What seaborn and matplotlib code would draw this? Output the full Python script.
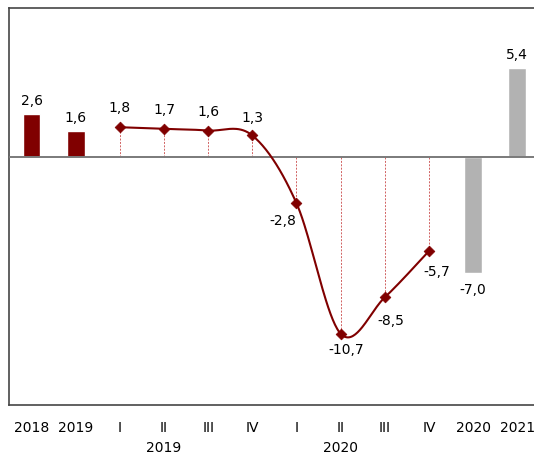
import numpy as np
import pandas as pd
import matplotlib
matplotlib.use("Agg")
import matplotlib.pyplot as plt
import seaborn as sns

# ---- data ----
tick_labels = ["2018", "2019", "I", "II", "III", "IV", "I", "II", "III", "IV", "2020", "2021"]
group_labels = ["2019", "2020"]
group_pos = [3, 7]

bar_pos = [0, 1, 10, 11]
bar_vals = [2.6, 1.6, -7.0, 5.4]
bar_kind = ["hist", "hist", "proj", "proj"]

q_pos = [2, 3, 4, 5, 6, 7, 8, 9]
q_vals = [1.8, 1.7, 1.6, 1.3, -2.8, -10.7, -8.5, -5.7]

RED = "#800000"
GREY = "#b2b2b2"

sns.set_theme(style="white")
plt.rcParams["font.family"] = ["DejaVu Sans"]
plt.rcParams["text.color"] = "black"
plt.rcParams["xtick.color"] = "black"

fig = plt.figure(figsize=(5.34, 4.54), dpi=100)
W, H = 534, 454
left, top, bottom = 9.3, 8.3, 404.7
ax = fig.add_axes([left / W, (H - bottom) / H, (W - left) / W, (bottom - top) / H])

bars = pd.DataFrame({"pos": bar_pos, "val": bar_vals, "kind": bar_kind})
sns.barplot(data=bars, x="pos", y="val", hue="kind", native_scale=True,
            palette={"hist": RED, "proj": GREY}, width=0.4, dodge=False,
            legend=False, ax=ax, zorder=2, saturation=1)

# smooth (Catmull-Rom / Bezier) curve through quarterly points
xs = np.array(q_pos, dtype=float)
ys = np.array(q_vals, dtype=float)
P = np.column_stack([xs, ys])
curve = []
t = np.linspace(0, 1, 40)
for i in range(len(P) - 1):
    p0 = P[i - 1] if i > 0 else P[i]
    p1, p2 = P[i], P[i + 1]
    p3 = P[i + 2] if i + 2 < len(P) else P[i + 1]
    c1 = p1 + (p2 - p0) / 6
    c2 = p2 - (p3 - p1) / 6
    seg = ((1 - t) ** 3)[:, None] * p1 + (3 * (1 - t) ** 2 * t)[:, None] * c1 \
        + (3 * (1 - t) * t ** 2)[:, None] * c2 + (t ** 3)[:, None] * p2
    curve.append(seg if i == 0 else seg[1:])
curve = np.vstack(curve)
ax.plot(curve[:, 0], curve[:, 1], color=RED, lw=1.5, zorder=4)
sns.scatterplot(x=q_pos, y=q_vals, marker="D", s=30, color=RED, edgecolor=RED,
                linewidth=0.5, ax=ax, zorder=5)

# dashed droplines
for x, y in zip(q_pos, q_vals):
    ax.plot([x, x], [0, y], color="#d06060", lw=0.7, ls=(0, (2, 1.5)), zorder=1)

ax.axhline(0, color="#7a7a7a", lw=1.4, zorder=3)

ax.set_xlim(-0.505, 11.38)
ax.set_ylim(-15, 9)
ax.set_xticks(range(len(tick_labels)))
ax.set_xticklabels(tick_labels, fontsize=10)
ax.tick_params(axis="x", length=0, pad=11.5, labelcolor="black")
ax.set_yticks([])
ax.set_xlabel("")
ax.set_ylabel("")
for s in ["left", "top", "bottom"]:
    ax.spines[s].set_color("#454545")
    ax.spines[s].set_linewidth(1.2)
ax.spines["right"].set_visible(False)

for lab, p in zip(group_labels, group_pos):
    ax.annotate(lab, xy=(p, 0), xycoords=("data", "axes fraction"),
                xytext=(0, -43), textcoords="offset pixels",
                ha="center", va="center", fontsize=10, color="black")

def fmt(v):
    return f"{v:.1f}".replace(".", ",")

# bar labels
for x, v in zip(bar_pos, bar_vals):
    off = 13 if v > 0 else -17
    ax.annotate(fmt(v), xy=(x, v), xytext=(0, off), textcoords="offset pixels",
                ha="center", va="center", fontsize=10, color="black")

# point labels
offsets = [(0, 19), (0, 19), (0, 19), (0, 17), (-14, -18), (6, -16), (6, -24), (8, -21)]
for x, v, (dx, dy) in zip(q_pos, q_vals, offsets):
    ax.annotate(fmt(v), xy=(x, v), xytext=(dx, dy), textcoords="offset pixels",
                ha="center", va="center", fontsize=10, color="black")

fig.savefig("out.png", dpi=100)
